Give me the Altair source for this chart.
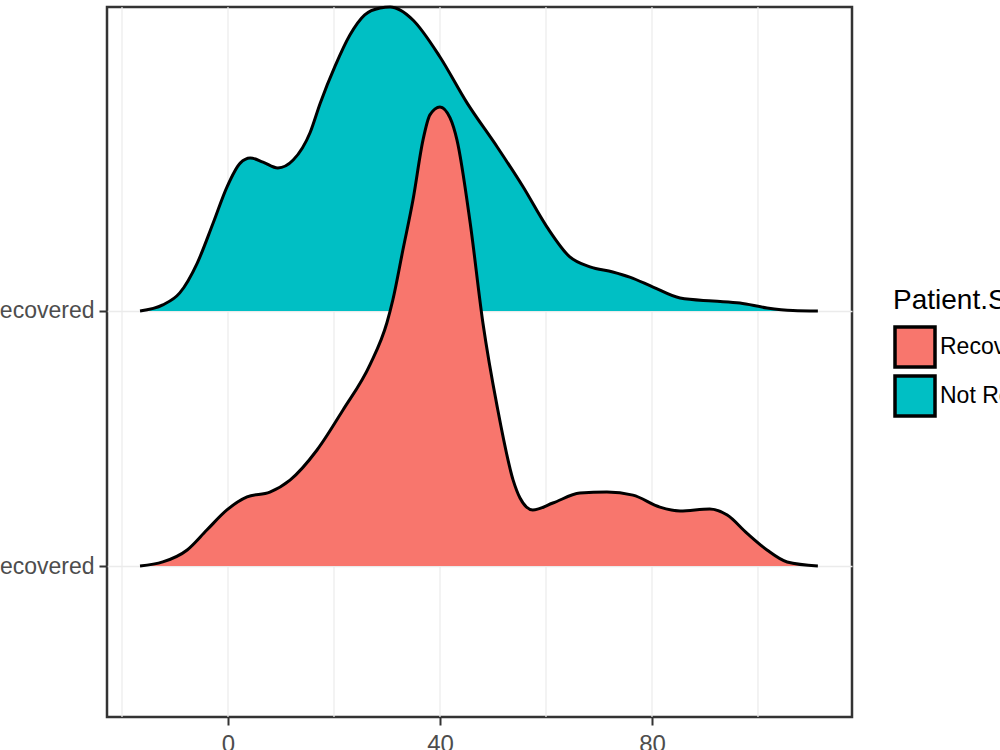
import altair as alt
import pandas as pd

# Age values (x) and ridge heights (in units of ridge spacing)
nr_age = [-16.6, -12.3, -9.1, -5.8, -2.8, -0.2, 2.3, 4.2, 6.6, 9.4, 12.3, 15.5, 17.4, 20.2,
          23.0, 25.8, 28.7, 30.6, 32.5, 34.9, 40.0, 45.1, 50.8, 55.7, 60.2, 64.5, 68.3,
          72.6, 75.8, 80.2, 85.3, 91.5, 96.6, 101.7, 106.6, 111.3]
nr_h = [0.0, 0.024, 0.071, 0.188, 0.345, 0.486, 0.580, 0.600, 0.584, 0.561, 0.592, 0.700,
        0.815, 0.960, 1.082, 1.161, 1.188, 1.192, 1.180, 1.141, 0.996, 0.816, 0.643, 0.486,
        0.329, 0.212, 0.173, 0.153, 0.133, 0.094, 0.051, 0.039, 0.031, 0.012, 0.002, 0.0]

rec_age = [-16.6, -12.3, -7.7, -4.0, -0.2, 3.6, 7.9, 11.7, 16.8, 21.7, 26.8, 30.0, 31.1,
           33.0, 34.9, 36.8, 38.1, 40.0, 41.9, 43.2, 45.7, 48.1, 50.8, 53.8, 55.1, 57.5,
           61.3, 66.4, 71.5, 76.4, 81.5, 85.3, 90.9, 94.2, 97.9, 101.7, 105.5, 111.3]
rec_h = [0.0, 0.016, 0.063, 0.141, 0.220, 0.271, 0.290, 0.337, 0.455, 0.612, 0.790, 0.955,
         1.043, 1.239, 1.435, 1.671, 1.769, 1.800, 1.757, 1.671, 1.345, 0.953, 0.624, 0.337,
         0.267, 0.220, 0.247, 0.286, 0.290, 0.278, 0.231, 0.216, 0.224, 0.200, 0.129, 0.063,
         0.016, 0.0]

statuses = ["Recovered", "Not Recovered"]
ridge_pos = {"Recovered": 1, "Not Recovered": 2}
colors = ["#F8766D", "#00BFC4"]
grid_vals = [-20, 0, 20, 40, 60, 80, 100]
x_ticks = [0, 40, 80]

rows = []
for s, ages, hs in [("Not Recovered", nr_age, nr_h), ("Recovered", rec_age, rec_h)]:
    for a, h in zip(ages, hs):
        rows.append({"age": a, "h": h, "status": s, "base": ridge_pos[s]})
df = pd.DataFrame(rows)
df["top"] = df["base"] + df["h"]

FONT = "Liberation Sans"

xscale = alt.Scale(domain=[-22.83, 117.74], nice=False, zero=False)
yscale = alt.Scale(domain=[0.408, 3.192], nice=False, zero=False)
cscale = alt.Scale(domain=statuses, range=colors)

grid = alt.Chart(pd.DataFrame({"g": grid_vals})).mark_rule(color="#ebebeb", strokeWidth=1.2).encode(
    x=alt.X("g:Q", scale=xscale, axis=alt.Axis(values=x_ticks, grid=False, domain=False,
            tickColor="#333333", tickSize=8, tickWidth=2, labelFontSize=24, labelColor="#4d4d4d",
            labelFont=FONT, labelPadding=7, title=None)),
)

def ridge(s):
    d = df[df["status"] == s]
    area = alt.Chart(d).mark_area(interpolate="monotone").encode(
        x=alt.X("age:Q", scale=xscale),
        y=alt.Y("top:Q", scale=yscale, axis=alt.Axis(values=[1, 2], grid=True, gridColor="#ebebeb",
                gridWidth=1.5, domain=False, tickColor="#333333", tickSize=8, tickWidth=2,
                labelFontSize=23, labelColor="#4d4d4d", labelFont=FONT, labelPadding=5,
                labelExpr="datum.value == 1 ? 'Recovered' : 'Not Recovered'", title=None)),
        y2="base:Q",
        color=alt.Color("status:N", scale=cscale, title="Patient.Status",
                        legend=alt.Legend(orient="none", legendX=786, legendY=280,
                                          symbolType="square", symbolSize=1600,
                                          symbolStrokeColor="black", symbolStrokeWidth=3.5,
                                          symbolOpacity=1, rowPadding=-11,
                                          titleFontSize=28, titleFont=FONT, titleFontWeight="normal",
                                          titleColor="black", titlePadding=10,
                                          labelFontSize=23, labelFont=FONT, labelColor="black",
                                          labelOffset=3, labelLimit=400)),
    )
    line = alt.Chart(d).mark_line(interpolate="monotone", color="black", strokeWidth=3).encode(
        x=alt.X("age:Q", scale=xscale),
        y=alt.Y("top:Q", scale=yscale),
    )
    return area + line

chart = alt.layer(grid, ridge("Not Recovered"), ridge("Recovered")).properties(
    width=745, height=710,
    autosize=alt.AutoSizeParams(type="none"),
    padding={"left": 107, "top": 7, "right": 148, "bottom": 33},
    background="white",
).configure_view(stroke="#333333", strokeWidth=2.5)

chart.save("out.html", embed_options={"renderer": "svg", "actions": False})
